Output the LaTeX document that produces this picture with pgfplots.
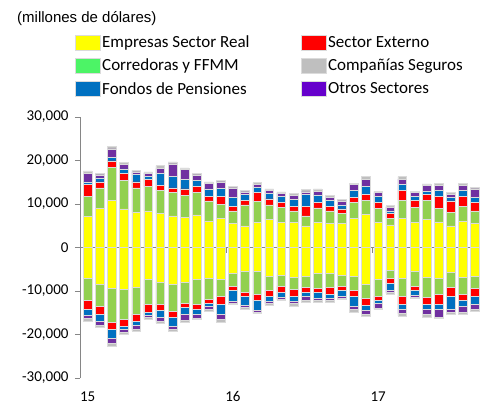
\documentclass[border=0pt]{standalone}
\usepackage{fontspec}
\setmainfont{Carlito}
\newfontfamily\arialf{Liberation Sans}
\usepackage{pgfplots}
\usepackage{pgfplotstable}
\pgfplotsset{compat=1.18}
\definecolor{cY}{HTML}{FFFF00}
\definecolor{cG}{HTML}{92D050}
\definecolor{cGL}{HTML}{4CF466}
\definecolor{cR}{HTML}{FF0000}
\definecolor{cB}{HTML}{0070C0}
\definecolor{cP}{HTML}{7030A0}
\definecolor{cPL}{HTML}{6600CC}
\definecolor{cS}{HTML}{BFBFBF}
\definecolor{axgray}{HTML}{868686}

\pgfplotstableread{
x Y G R B P S
0 7200 4600 2700 600 1900 600
1 9000 4700 1400 900 700 300
2 10900 7600 1400 800 2000 600
3 8900 6600 1600 1000 1000 400
4 8100 5600 1400 1700 600 400
5 8400 5600 1700 600 800 300
6 7800 5400 1100 2800 1100 600
7 7300 5300 1100 2600 2900 500
8 7000 5000 1500 2200 2200 400
9 7500 5100 1400 1400 1300 400
10 6100 4600 1000 1800 1200 400
11 6700 3300 1700 1900 1500 400
12 5600 2800 1100 2000 2200 400
13 5000 4800 1100 1400 500 300
14 5800 4800 2000 1200 700 400
15 6400 3400 1400 1200 700 400
16 5800 3500 1000 1500 700 300
17 5800 2600 1100 1500 900 500
18 5000 2300 2200 2800 500 600
19 5800 3300 1200 1800 800 600
20 5600 2800 1100 1400 700 400
21 5600 2300 1000 900 900 300
22 6700 3700 1100 1700 1300 300
23 7600 3300 1300 1800 1700 600
24 5800 3200 1300 1500 800 300
25 5200 1500 1100 600 900 300
26 6700 4200 2200 1400 1200 600
27 5800 3400 1700 900 800 300
28 6400 4500 1300 700 1300 400
29 5900 3100 2700 1500 1100 500
30 5000 3100 2600 800 800 300
31 6100 3400 2300 1400 1100 400
32 5600 2800 2000 1100 2000 300
}\postable

\pgfplotstableread{
x Y G R B P S
0 -7100 -5100 -2100 -1200 -800 -600
1 -8500 -5100 -1700 -1700 -800 -600
2 -9400 -7800 -1700 -2000 -1200 -500
3 -9600 -7000 -1400 -900 -600 -500
4 -9100 -6200 -1600 -900 -1000 -400
5 -7400 -5600 -1900 -600 -500 -500
6 -7900 -5100 -1400 -1700 -800 -500
7 -8500 -6200 -1300 -2000 -800 -400
8 -8100 -4600 -1100 -1500 -1400 -500
9 -7400 -5700 -1000 -1200 -900 -400
10 -7100 -4800 -1000 -700 -600 -400
11 -7300 -4000 -1700 -2300 -1200 -600
12 -6000 -2800 -1100 -2400 -500 -300
13 -5400 -4800 -1100 -2000 -500 -500
14 -5400 -5400 -1400 -2200 -500 -300
15 -6600 -3300 -1200 -1200 -600 -400
16 -6300 -2500 -1600 -1000 -500 -300
17 -6800 -2900 -1400 -1200 -600 -600
18 -6600 -2500 -1300 -900 -800 -500
19 -6000 -3400 -1000 -1200 -600 -400
20 -6000 -3100 -1700 -800 -600 -400
21 -6300 -2500 -1100 -1200 -500 -300
22 -6600 -3300 -1400 -2300 -700 -600
23 -8500 -3100 -1700 -1100 -1000 -400
24 -7400 -3700 -1100 -700 -1100 -300
25 -5200 -1900 -1100 -1700 -500 -300
26 -7100 -4000 -1900 -1100 -1100 -600
27 -5500 -3300 -1100 -1100 -400 -300
28 -6900 -4500 -1600 -1100 -1300 -600
29 -7100 -3700 -2200 -1100 -1900 -300
30 -5700 -3400 -2000 -3000 -800 -400
31 -6900 -3900 -1400 -1400 -1300 -400
32 -6600 -2800 -1700 -1900 -1300 -400
}\negtable

\begin{document}
\begin{tikzpicture}
\useasboundingbox (0,0) rectangle (489pt,-405pt);
\pgfplotsset{
  base/.style={
    width=400pt, height=261pt, scale only axis,
    at={(80pt,-378pt)}, anchor=south west,
    xmin=-0.64, xmax=32.42, ymin=-30000, ymax=30000,
    ybar stacked, bar width=0.72,
    every axis plot/.append style={draw=black!14, line width=0.5pt},
  }
}
\node[anchor=west, inner sep=0pt, font=\arialf\fontsize{15}{18}\selectfont] at (17pt,-19pt) {(millones de dólares)};
\begin{axis}[base,
  axis y line*=left, axis x line*=bottom,
  x axis line style={draw=none},
  xtick={0,12,24}, xticklabels={15,16,17},
  xtick style={draw=none},
  ytick={-30000,-20000,-10000,0,10000,20000,30000},
  tick align=outside, major tick length=5pt,
  y axis line style={color=axgray, line width=0.8pt},
  ytick style={color=axgray, line width=0.8pt},
  scaled y ticks=false,
  /pgf/number format/fixed,
  /pgf/number format/1000 sep={,},
  /pgf/number format/assume math mode=true,
  tick label style={font=\fontsize{15}{18}\selectfont},
  yticklabel style={xshift=-3pt},
  xticklabel style={yshift=-5pt},
  legend columns=2,
  legend cell align=left,
  legend image code/.code={\fill[#1] (0pt,-7.5pt) rectangle (25pt,7.5pt);},
  legend style={draw=none, fill=none,
    at={(axis description cs:-0.0125,1.318)}, anchor=north west,
    font=\fontsize{17}{20}\selectfont,
    inner sep=0pt, row sep=7pt,
    nodes={inner sep=1.5pt},
    /tikz/every even column/.append style={column sep=50pt}},
]
\addlegendimage{fill=cY}\addlegendentry{Empresas Sector Real}
\addlegendimage{fill=cR}\addlegendentry{Sector Externo}
\addlegendimage{fill=cGL}\addlegendentry{Corredoras y FFMM}
\addlegendimage{fill=cS}\addlegendentry{Compañías Seguros}
\addlegendimage{fill=cB}\addlegendentry{Fondos de Pensiones}
\addlegendimage{fill=cPL}\addlegendentry{Otros Sectores}
\addplot[forget plot, fill=cY] table[x=x,y=Y]{\postable};
\addplot[forget plot, fill=cG] table[x=x,y=G]{\postable};
\addplot[forget plot, fill=cR] table[x=x,y=R]{\postable};
\addplot[forget plot, fill=cB] table[x=x,y=B]{\postable};
\addplot[forget plot, fill=cP] table[x=x,y=P]{\postable};
\addplot[forget plot, fill=cS] table[x=x,y=S]{\postable};
\end{axis}
\begin{axis}[base, hide axis]
\addplot[fill=cY] table[x=x,y=Y]{\negtable};
\addplot[fill=cG] table[x=x,y=G]{\negtable};
\addplot[fill=cR] table[x=x,y=R]{\negtable};
\addplot[fill=cB] table[x=x,y=B]{\negtable};
\addplot[fill=cP] table[x=x,y=P]{\negtable};
\addplot[fill=cS] table[x=x,y=S]{\negtable};
\draw[axgray, line width=0.8pt] (axis cs:-0.64,0) -- (axis cs:32.42,0);
\draw[axgray, line width=0.8pt] (axis cs:11.5,0) -- ++(0pt,-5pt);
\draw[axgray, line width=0.8pt] (axis cs:23.5,0) -- ++(0pt,-5pt);
\end{axis}
\end{tikzpicture}
\end{document}
